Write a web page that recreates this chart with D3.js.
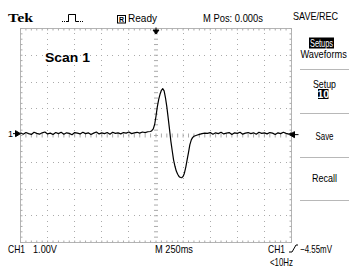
<!DOCTYPE html>
<html>
<head>
<meta charset="utf-8">
<script src="https://cdn.jsdelivr.net/npm/d3@7/dist/d3.min.js"></script>
<style>
  body { margin: 0; background: #fff; }
  svg { display: block; }
  text { font-family: "Liberation Sans", Arial, sans-serif; fill: #000; }
  text.brand { font-family: "Liberation Serif", "DejaVu Serif", serif; }
</style>
</head>
<body>
<svg id="scope" width="349" height="267"></svg>
<script>
// CH1 trace, time in ms (0 = trigger), volts
const traceTime = [
  -1250, -1225, -1200, -1175, -1150, -1125, -1100, -1075, -1050, -1025,
  -1000, -975, -950, -925, -900, -875, -850, -825, -800, -775,
  -750, -725, -700, -675, -650, -625, -600, -575, -550, -525,
  -500, -475, -450, -425, -400, -375, -350, -325, -300, -275,
  -250, -225, -200, -175, -150, -125, -100, -75,
  -50, -37, -25, -12, 0, 12, 25, 37, 50, 62, 75, 87, 100, 112, 125, 137,
  150, 162, 175, 187, 200, 212, 225, 237, 250, 262, 275, 287, 300, 312,
  325, 337, 350, 375, 400, 425, 450,
  475, 500, 525, 550, 575, 600, 625, 650, 675, 700, 725, 750, 775, 800,
  825, 850, 875, 900, 925, 950, 975, 1000, 1025, 1050, 1075, 1100, 1125,
  1150, 1175, 1200, 1225, 1250
];
const traceVolts = [
  0.03, -0.02, 0.04, 0.00, -0.03, 0.05, 0.01, -0.02, 0.03, 0.06,
  -0.01, 0.02, -0.03, 0.04, 0.00, 0.05, -0.02, 0.03, 0.01, -0.04,
  0.04, 0.02, -0.01, 0.05, 0.00, 0.03, -0.03, 0.02, 0.06, -0.01,
  0.03, 0.00, 0.04, -0.02, 0.05, 0.01, 0.03, -0.01, 0.04, 0.02,
  0.06, 0.00, 0.03, 0.05, 0.02, 0.06, 0.04, 0.07,
  0.08, 0.12, 0.18, 0.35, 0.65, 1.00, 1.28, 1.47, 1.62, 1.68, 1.60, 1.35, 1.00, 0.60, 0.15, -0.28,
  -0.65, -0.98, -1.22, -1.40, -1.52, -1.60, -1.64, -1.65, -1.60, -1.48, -1.25, -0.98, -0.70, -0.42,
  -0.24, -0.15, -0.10, -0.06, -0.03, 0.00, 0.02,
  0.01, 0.04, -0.02, 0.03, 0.00, 0.05, -0.01, 0.02, 0.04, -0.03, 0.03, 0.01, 0.05, -0.02,
  0.02, 0.04, 0.00, 0.03, -0.02, 0.05, 0.01, 0.03, -0.01, 0.04, 0.02, -0.03, 0.03,
  0.00, 0.05, 0.01, -0.02, 0.03
];

const timeDomain = [-1250, 1250];   // 10 div x 250 ms
const voltDomain = [-4, 4];         // 8 div x 1 V
const ch1Offset = 0.07;             // ground marker position (div)

const menuItems = ["Setup", "Save", "Recall"];
const statusTop = { brand: "Tek", state: "Ready", pos: "M Pos: 0.000s", menu: "SAVE/REC" };
const statusBottom = { ch: "CH1", volts: "1.00V", time: "M 250ms", trig: "\u22124.55mV", freq: "<10Hz" };

const svg = d3.select("#scope");
const box = { left: 20.5, right: 291.5, top: 28.5, bottom: 242.5 };

const x = d3.scaleLinear().domain(timeDomain).range([box.left, box.right]);
const y = d3.scaleLinear().domain(voltDomain).range([box.bottom, box.top]);

// graticule
const grid = svg.append("g").attr("class", "graticule");
const gridColor = "#aaaaaa";
const minorX = d3.range(-1250, 1251, 50);
const minorY = d3.range(-20, 21).map(d => d / 5);
const majorX = d3.range(-1000, 1001, 250).filter(d => d !== 0);
const majorY = d3.range(-3, 4).filter(d => d !== 0);

grid.append("rect")
  .attr("x", box.left).attr("y", box.top)
  .attr("width", box.right - box.left).attr("height", box.bottom - box.top)
  .attr("fill", "none").attr("stroke", "#b4b4b4");

const ticks = [];
minorX.forEach(t => {
  ticks.push([x(t), box.top, x(t), box.top + 2]);
  ticks.push([x(t), box.bottom - 2, x(t), box.bottom]);
  ticks.push([x(t), y(0) - 2, x(t), y(0) + 2]);
});
minorY.forEach(v => {
  ticks.push([box.left, y(v), box.left + 2, y(v)]);
  ticks.push([box.right - 2, y(v), box.right, y(v)]);
  ticks.push([x(0) - 2, y(v), x(0) + 2, y(v)]);
});
grid.selectAll(".tick").data(ticks).enter().append("line")
  .attr("class", "tick")
  .attr("x1", d => d[0]).attr("y1", d => d[1])
  .attr("x2", d => d[2]).attr("y2", d => d[3])
  .attr("stroke", gridColor);

const dots = [];
majorX.forEach(t => minorY.forEach(v => dots.push([x(t), y(v)])));
majorY.forEach(v => minorX.forEach(t => dots.push([x(t), y(v)])));
grid.selectAll(".dot").data(dots).enter().append("rect")
  .attr("class", "dot")
  .attr("x", d => Math.floor(d[0])).attr("y", d => Math.floor(d[1]))
  .attr("width", 1).attr("height", 1)
  .attr("fill", gridColor);

// waveform
const trace = traceTime.map((t, i) => ({ t: t, v: traceVolts[i] }));
const line = d3.line()
  .x(d => x(d.t))
  .y(d => y(d.v + ch1Offset));

svg.append("path")
  .datum(trace)
  .attr("d", line)
  .attr("fill", "none")
  .attr("stroke", "#000")
  .attr("stroke-width", 1.2)
  .attr("stroke-linejoin", "round");

// markers: ch1 ground, trigger position, trigger level
const gy = y(ch1Offset);
svg.append("text").attr("x", 8).attr("y", gy + 3.5)
  .attr("font-size", 9).text("1");
svg.append("path")
  .attr("d", `M${box.left},${gy} l-5,-3 v6 z M13,${gy} h3`)
  .attr("fill", "#000").attr("stroke", "#000").attr("stroke-width", 1);

svg.append("path")
  .attr("d", `M${x(0)},${box.top - 1} v3 M${x(0) - 3},${box.top + 1.5} h6 l-3,4 z`)
  .attr("fill", "#000").attr("stroke", "#000").attr("stroke-width", 1);

svg.append("path")
  .attr("d", `M${box.right - 2},${gy + 1} l5,-3 v6 z M${box.right + 3},${gy + 1} h4`)
  .attr("fill", "#000").attr("stroke", "#000").attr("stroke-width", 1);

// top status line
svg.append("text").attr("class", "brand").attr("x", 8).attr("y", 21.5)
  .attr("font-weight", "bold")
  .attr("font-size", 13.5).attr("textLength", 25).attr("lengthAdjust", "spacingAndGlyphs")
  .text(statusTop.brand);

svg.append("path")
  .attr("d", "M62,21.5 H68.5 V14.5 H75.5 V21.5 H83")
  .attr("fill", "none").attr("stroke", "#000").attr("stroke-width", 1)
  .attr("stroke-dasharray", "1,1");
svg.append("path")
  .attr("d", "M66,21.5 H68.5 V14.5 H75.5 V21.5 H78")
  .attr("fill", "none").attr("stroke", "#000").attr("stroke-width", 1);

svg.append("rect").attr("x", 117.5).attr("y", 15.5).attr("width", 8).attr("height", 7.5)
  .attr("fill", "none").attr("stroke", "#000");
svg.append("text").attr("x", 121.5).attr("y", 22).attr("text-anchor", "middle")
  .attr("font-size", 7).attr("font-weight", "bold").text("R");
svg.append("text").attr("x", 128).attr("y", 22)
  .attr("font-size", 10.5).attr("textLength", 29).attr("lengthAdjust", "spacingAndGlyphs")
  .text(statusTop.state);

svg.append("text").attr("x", 203).attr("y", 21.5)
  .attr("font-size", 10.5).attr("textLength", 60).attr("lengthAdjust", "spacingAndGlyphs")
  .text(statusTop.pos);

svg.append("text").attr("x", 293).attr("y", 19.5)
  .attr("font-size", 10.5).attr("textLength", 45).attr("lengthAdjust", "spacingAndGlyphs")
  .text(statusTop.menu);

svg.append("text").attr("x", 45).attr("y", 62)
  .attr("font-size", 12.5).attr("font-weight", "bold")
  .attr("textLength", 45).attr("lengthAdjust", "spacingAndGlyphs")
  .text("Scan 1");

// side menu
const menu = svg.append("g").attr("class", "menu");
menu.append("rect").attr("x", 309).attr("y", 37.5).attr("width", 25).attr("height", 11).attr("fill", "#000");
menu.append("text").attr("x", 321.5).attr("y", 46.8).attr("text-anchor", "middle")
  .attr("font-size", 11).attr("textLength", 23).attr("lengthAdjust", "spacingAndGlyphs")
  .style("fill", "#fff").text("Setups");
menu.append("text")
  .attr("transform", "translate(300.5,57.8) scale(0.88,1)")
  .attr("font-size", 10.5)
  .text("Waveforms");

[69.5, 113.5, 157.5, 200.5].forEach(sy => {
  menu.append("line").attr("x1", 300).attr("x2", 349).attr("y1", sy).attr("y2", sy)
    .attr("stroke", "#b8b8b8");
});

menu.selectAll(".item").data(menuItems).enter().append("text")
  .attr("class", "item")
  .attr("x", 324.5)
  .attr("y", (d, i) => [87.5, 139.5, 181.5][i])
  .attr("text-anchor", "middle")
  .attr("font-size", 11)
  .attr("textLength", (d, i) => [23, 18, 25][i])
  .attr("lengthAdjust", "spacingAndGlyphs")
  .text(d => d);

menu.append("rect").attr("x", 318).attr("y", 89).attr("width", 10.5).attr("height", 10).attr("fill", "#000");
menu.append("text").attr("x", 323.3).attr("y", 98).attr("text-anchor", "middle")
  .attr("font-size", 10.5).attr("font-weight", "bold").style("fill", "#fff").text("10");

// bottom status line
const bottom = svg.append("g").attr("font-size", 10.5);
bottom.append("text").attr("x", 8).attr("y", 252.5)
  .attr("textLength", 17).attr("lengthAdjust", "spacingAndGlyphs").text(statusBottom.ch);
bottom.append("text").attr("x", 33).attr("y", 252.5)
  .attr("textLength", 24).attr("lengthAdjust", "spacingAndGlyphs").text(statusBottom.volts);
bottom.append("text").attr("x", 155).attr("y", 252.5)
  .attr("textLength", 38).attr("lengthAdjust", "spacingAndGlyphs").text(statusBottom.time);
bottom.append("text").attr("x", 268).attr("y", 252.5)
  .attr("textLength", 17).attr("lengthAdjust", "spacingAndGlyphs").text(statusBottom.ch);
bottom.append("path").attr("d", "M289,252 h3 l4,-7 h2")
  .attr("fill", "none").attr("stroke", "#000").attr("stroke-width", 1);
bottom.append("text").attr("x", 300).attr("y", 252.5)
  .attr("textLength", 32).attr("lengthAdjust", "spacingAndGlyphs").text(statusBottom.trig);
bottom.append("text").attr("x", 270).attr("y", 266)
  .attr("textLength", 23).attr("lengthAdjust", "spacingAndGlyphs").text(statusBottom.freq);
</script>
</body>
</html>
